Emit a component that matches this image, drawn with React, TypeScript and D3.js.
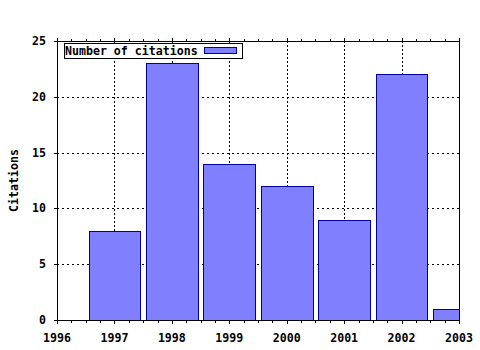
import React from "react";
import * as d3 from "d3";

const years = [1997, 1998, 1999, 2000, 2001, 2002, 2003];
const citations = [8, 23, 14, 12, 9, 22, 1];
const xTickValues = [1996, 1997, 1998, 1999, 2000, 2001, 2002, 2003];
const yTickValues = [0, 5, 10, 15, 20, 25];
const seriesLabel = "Number of citations";
const yLabel = "Citations";

const W = 480;
const H = 350;
const L = 57, R = 459, T = 41, B = 320;
const FONT = "'DejaVu Sans Mono', monospace";

export default function App() {
  const x = d3.scaleLinear().domain([1996, 2003]).range([L, R]);
  const y = d3.scaleLinear().domain([0, 25]).range([B, T]);
  const barW = 0.9;
  const minor: number[] = [];
  for (let i = 0; i < xTickValues.length - 1; i++) {
    for (let k = 1; k < 4; k++) minor.push(xTickValues[i] + k / 4);
  }
  return (
    <svg width={W} height={H} style={{ position: "absolute", left: 0, top: 0, background: "#fff" }}>
      <defs>
        <clipPath id="plot">
          <rect x={L} y={T} width={R - L} height={B - T} />
        </clipPath>
      </defs>
      <rect x={0} y={0} width={W} height={H} fill="#fff" />
      {/* grid */}
      {xTickValues.slice(1, -1).map((v) => (
        <line key={"gx" + v} x1={Math.round(x(v)) + 0.5} x2={Math.round(x(v)) + 0.5} y1={T} y2={B} stroke="#000" strokeDasharray="2,2" />
      ))}
      {yTickValues.slice(1, -1).map((v) => (
        <line key={"gy" + v} x1={L} x2={R} y1={Math.round(y(v)) + 0.5} y2={Math.round(y(v)) + 0.5} stroke="#000" strokeDasharray="2,3" />
      ))}
      {/* bars */}
      <g clipPath="url(#plot)">
        {years.map((yr, i) => (
          <rect
            key={yr}
            x={Math.round(x(yr - barW / 2)) + 0.5}
            y={Math.round(y(citations[i])) + 0.5}
            width={Math.round(x(yr + barW / 2)) - Math.round(x(yr - barW / 2))}
            height={Math.round(y(0)) - Math.round(y(citations[i]))}
            fill="#8080ff"
            stroke="#0000a0"
          />
        ))}
      </g>
      {/* border */}
      <rect x={L + 0.5} y={T + 0.5} width={R - L} height={B - T} fill="none" stroke="#000" />
      {/* x ticks */}
      {xTickValues.map((v) => (
        <g key={"xt" + v}>
          <line x1={Math.round(x(v)) + 0.5} x2={Math.round(x(v)) + 0.5} y1={B} y2={B + 4} stroke="#000" />
          <line x1={Math.round(x(v)) + 0.5} x2={Math.round(x(v)) + 0.5} y1={T + 1} y2={T - 3} stroke="#000" />
          <text x={x(v)} y={342} textAnchor="middle" fontFamily={FONT} fontWeight="bold" fontSize={11.6} fill="#000">
            {v}
          </text>
        </g>
      ))}
      {minor.map((v) => (
        <g key={"xm" + v}>
          <line x1={Math.round(x(v)) + 0.5} x2={Math.round(x(v)) + 0.5} y1={B} y2={B + 3} stroke="#000" />
          <line x1={Math.round(x(v)) + 0.5} x2={Math.round(x(v)) + 0.5} y1={T + 1} y2={T - 2} stroke="#000" />
        </g>
      ))}
      {/* y ticks */}
      {yTickValues.map((v) => (
        <g key={"yt" + v}>
          <line x1={L - 3} x2={L} y1={Math.round(y(v)) + 0.5} y2={Math.round(y(v)) + 0.5} stroke="#000" />
          <text x={46} y={y(v) + 4} textAnchor="end" fontFamily={FONT} fontWeight="bold" fontSize={11.6} fill="#000">
            {v}
          </text>
        </g>
      ))}
      <text
        transform={`translate(18,${(T + B) / 2}) rotate(-90)`}
        textAnchor="middle"
        fontFamily={FONT}
        fontWeight="bold"
        fontSize={11.6}
        fill="#000"
      >
        {yLabel}
      </text>
      {/* legend */}
      <rect x={64.5} y={43.5} width={178} height={15} fill="#fff" stroke="#000" />
      <text x={65} y={55} fontFamily={FONT} fontWeight="bold" fontSize={11.6} fill="#000">
        {seriesLabel}
      </text>
      <rect x={204.5} y={47.5} width={32} height={6} fill="#8080ff" stroke="#0000a0" />
    </svg>
  );
}
